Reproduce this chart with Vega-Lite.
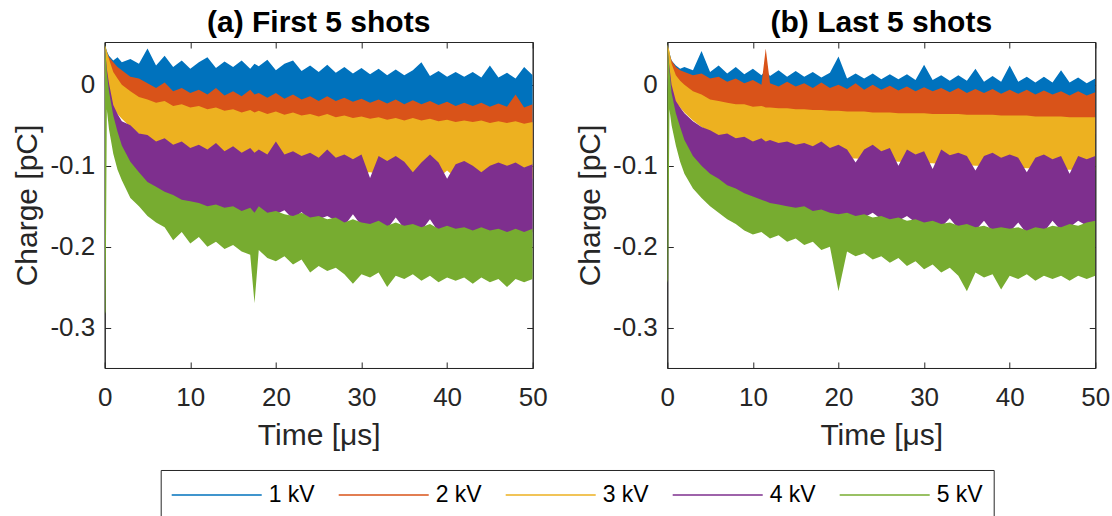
{
"$schema": "https://vega.github.io/schema/vega-lite/v6.json",
"padding": {"left": 11.7, "top": 7, "right": 5, "bottom": 0},
"background": "white",
"config": {
  "view": {"stroke": "#262626", "strokeWidth": 1},
  "axis": {"labelFont": "Liberation Sans", "labelFontSize": 26, "labelColor": "#262626", "titleFont": "Liberation Sans", "titleFontSize": 30, "titleFontWeight": "normal", "titleColor": "#262626", "domainColor": "#262626", "tickColor": "#262626", "tickSize": -6, "labelPadding": 16, "grid": false, "labelFlush": false, "labelOverlap": false},
  "title": {"font": "Liberation Sans", "fontSize": 30, "fontWeight": "bold", "color": "#000000", "offset": 4}
},
"datasets": {
"a": [
{"t":0,"h1":0.05,"l1":0.02,"h2":0.048,"l2":0.015,"h3":0.05,"l3":0.01,"h4":0.05,"l4":0.0,"h5":0.053,"l5":-0.285},
{"t":0.1,"h1":0.047,"l1":0.014,"h2":0.045,"l2":0.009,"h3":0.047,"l3":0.004,"h4":0.038,"l4":-0.01,"h5":0.04,"l5":-0.28},
{"t":0.25,"h1":0.042,"l1":0.005,"h2":0.04,"l2":0.0,"h3":0.042,"l3":-0.005,"h4":0.02,"l4":-0.025,"h5":0.015,"l5":-0.03},
{"t":0.5,"h1":0.036,"l1":-0.005,"h2":0.034,"l2":-0.01,"h3":0.032,"l3":-0.012,"h4":0.002,"l4":-0.045,"h5":-0.008,"l5":-0.055},
{"t":1,"h1":0.03,"l1":-0.015,"h2":0.028,"l2":-0.02,"h3":0.016,"l3":-0.03,"h4":-0.025,"l4":-0.072,"h5":-0.038,"l5":-0.085},
{"t":1.5,"h1":0.034,"l1":-0.018,"h2":0.022,"l2":-0.028,"h3":0.008,"l3":-0.036,"h4":-0.036,"l4":-0.085,"h5":-0.058,"l5":-0.105},
{"t":2,"h1":0.028,"l1":-0.02,"h2":0.018,"l2":-0.032,"h3":0.0,"l3":-0.042,"h4":-0.045,"l4":-0.095,"h5":-0.075,"l5":-0.118},
{"t":3,"h1":0.032,"l1":-0.022,"h2":0.01,"l2":-0.038,"h3":-0.008,"l3":-0.052,"h4":-0.05,"l4":-0.105,"h5":-0.095,"l5":-0.14},
{"t":4,"h1":0.026,"l1":-0.024,"h2":0.008,"l2":-0.042,"h3":-0.015,"l3":-0.06,"h4":-0.06,"l4":-0.113,"h5":-0.108,"l5":-0.15},
{"t":5,"h1":0.045,"l1":-0.025,"h2":0.002,"l2":-0.046,"h3":-0.018,"l3":-0.066,"h4":-0.062,"l4":-0.125,"h5":-0.12,"l5":-0.162},
{"t":6,"h1":0.024,"l1":-0.026,"h2":-0.004,"l2":-0.05,"h3":-0.022,"l3":-0.072,"h4":-0.07,"l4":-0.132,"h5":-0.126,"l5":-0.17},
{"t":7,"h1":0.036,"l1":-0.026,"h2":0.003,"l2":-0.052,"h3":-0.02,"l3":-0.078,"h4":-0.066,"l4":-0.136,"h5":-0.132,"l5":-0.176},
{"t":8,"h1":0.022,"l1":-0.027,"h2":-0.008,"l2":-0.054,"h3":-0.026,"l3":-0.082,"h4":-0.074,"l4":-0.14,"h5":-0.136,"l5":-0.192},
{"t":9,"h1":0.03,"l1":-0.027,"h2":-0.004,"l2":-0.055,"h3":-0.024,"l3":-0.085,"h4":-0.07,"l4":-0.146,"h5":-0.142,"l5":-0.182},
{"t":10,"h1":0.02,"l1":-0.028,"h2":-0.01,"l2":-0.056,"h3":-0.028,"l3":-0.09,"h4":-0.078,"l4":-0.148,"h5":-0.144,"l5":-0.196},
{"t":11,"h1":0.028,"l1":-0.028,"h2":-0.006,"l2":-0.057,"h3":-0.026,"l3":-0.088,"h4":-0.074,"l4":-0.15,"h5":-0.146,"l5":-0.188},
{"t":12,"h1":0.034,"l1":-0.029,"h2":-0.012,"l2":-0.058,"h3":-0.03,"l3":-0.094,"h4":-0.08,"l4":-0.154,"h5":-0.15,"l5":-0.2},
{"t":13,"h1":0.021,"l1":-0.029,"h2":-0.004,"l2":-0.058,"h3":-0.028,"l3":-0.092,"h4":-0.072,"l4":-0.152,"h5":-0.148,"l5":-0.194},
{"t":14,"h1":0.029,"l1":-0.03,"h2":-0.013,"l2":-0.059,"h3":-0.032,"l3":-0.097,"h4":-0.082,"l4":-0.156,"h5":-0.152,"l5":-0.203},
{"t":15,"h1":0.022,"l1":-0.03,"h2":-0.008,"l2":-0.06,"h3":-0.03,"l3":-0.096,"h4":-0.076,"l4":-0.155,"h5":-0.15,"l5":-0.198},
{"t":16,"h1":0.03,"l1":-0.03,"h2":-0.014,"l2":-0.06,"h3":-0.034,"l3":-0.1,"h4":-0.084,"l4":-0.16,"h5":-0.156,"l5":-0.206},
{"t":17,"h1":0.02,"l1":-0.031,"h2":-0.006,"l2":-0.061,"h3":-0.031,"l3":-0.098,"h4":-0.078,"l4":-0.157,"h5":-0.152,"l5":-0.21},
{"t":17.5,"h1":0.026,"l1":-0.031,"h2":-0.012,"l2":-0.061,"h3":-0.034,"l3":-0.102,"h4":-0.084,"l4":-0.162,"h5":-0.158,"l5":-0.27},
{"t":18,"h1":0.023,"l1":-0.031,"h2":-0.01,"l2":-0.062,"h3":-0.032,"l3":-0.1,"h4":-0.08,"l4":-0.156,"h5":-0.15,"l5":-0.204},
{"t":19,"h1":0.031,"l1":-0.032,"h2":-0.016,"l2":-0.062,"h3":-0.036,"l3":-0.103,"h4":-0.086,"l4":-0.162,"h5":-0.158,"l5":-0.214},
{"t":20,"h1":0.018,"l1":-0.032,"h2":-0.01,"l2":-0.063,"h3":-0.033,"l3":-0.101,"h4":-0.07,"l4":-0.16,"h5":-0.156,"l5":-0.218},
{"t":21,"h1":0.026,"l1":-0.033,"h2":-0.017,"l2":-0.063,"h3":-0.037,"l3":-0.105,"h4":-0.086,"l4":-0.155,"h5":-0.16,"l5":-0.212},
{"t":22,"h1":0.03,"l1":-0.033,"h2":-0.012,"l2":-0.064,"h3":-0.034,"l3":-0.103,"h4":-0.082,"l4":-0.166,"h5":-0.162,"l5":-0.222},
{"t":23,"h1":0.017,"l1":-0.034,"h2":-0.018,"l2":-0.064,"h3":-0.038,"l3":-0.107,"h4":-0.088,"l4":-0.157,"h5":-0.158,"l5":-0.216},
{"t":24,"h1":0.024,"l1":-0.034,"h2":-0.014,"l2":-0.065,"h3":-0.036,"l3":-0.105,"h4":-0.084,"l4":-0.168,"h5":-0.164,"l5":-0.232},
{"t":25,"h1":0.016,"l1":-0.035,"h2":-0.02,"l2":-0.065,"h3":-0.039,"l3":-0.109,"h4":-0.09,"l4":-0.166,"h5":-0.162,"l5":-0.224},
{"t":26,"h1":0.025,"l1":-0.035,"h2":-0.014,"l2":-0.066,"h3":-0.036,"l3":-0.106,"h4":-0.08,"l4":-0.162,"h5":-0.166,"l5":-0.23},
{"t":27,"h1":0.015,"l1":-0.036,"h2":-0.02,"l2":-0.066,"h3":-0.04,"l3":-0.11,"h4":-0.09,"l4":-0.168,"h5":-0.164,"l5":-0.226},
{"t":28,"h1":0.022,"l1":-0.036,"h2":-0.016,"l2":-0.067,"h3":-0.038,"l3":-0.108,"h4":-0.086,"l4":-0.174,"h5":-0.17,"l5":-0.234},
{"t":29,"h1":0.014,"l1":-0.037,"h2":-0.021,"l2":-0.067,"h3":-0.041,"l3":-0.111,"h4":-0.092,"l4":-0.16,"h5":-0.166,"l5":-0.246},
{"t":30,"h1":0.021,"l1":-0.037,"h2":-0.017,"l2":-0.068,"h3":-0.039,"l3":-0.109,"h4":-0.086,"l4":-0.174,"h5":-0.17,"l5":-0.234},
{"t":31,"h1":0.013,"l1":-0.038,"h2":-0.022,"l2":-0.068,"h3":-0.042,"l3":-0.108,"h4":-0.115,"l4":-0.176,"h5":-0.172,"l5":-0.238},
{"t":32,"h1":0.02,"l1":-0.038,"h2":-0.018,"l2":-0.069,"h3":-0.04,"l3":-0.11,"h4":-0.088,"l4":-0.172,"h5":-0.168,"l5":-0.232},
{"t":33,"h1":0.012,"l1":-0.039,"h2":-0.023,"l2":-0.069,"h3":-0.043,"l3":-0.113,"h4":-0.094,"l4":-0.178,"h5":-0.174,"l5":-0.25},
{"t":34,"h1":0.019,"l1":-0.039,"h2":-0.018,"l2":-0.07,"h3":-0.041,"l3":-0.111,"h4":-0.088,"l4":-0.164,"h5":-0.17,"l5":-0.236},
{"t":35,"h1":0.012,"l1":-0.04,"h2":-0.024,"l2":-0.07,"h3":-0.044,"l3":-0.114,"h4":-0.095,"l4":-0.178,"h5":-0.174,"l5":-0.24},
{"t":36,"h1":0.018,"l1":-0.04,"h2":-0.019,"l2":-0.071,"h3":-0.041,"l3":-0.112,"h4":-0.108,"l4":-0.176,"h5":-0.172,"l5":-0.234},
{"t":37,"h1":0.028,"l1":-0.041,"h2":-0.024,"l2":-0.071,"h3":-0.044,"l3":-0.114,"h4":-0.096,"l4":-0.18,"h5":-0.176,"l5":-0.242},
{"t":38,"h1":0.011,"l1":-0.041,"h2":-0.02,"l2":-0.072,"h3":-0.042,"l3":-0.112,"h4":-0.086,"l4":-0.166,"h5":-0.172,"l5":-0.236},
{"t":39,"h1":0.017,"l1":-0.042,"h2":-0.025,"l2":-0.072,"h3":-0.045,"l3":-0.115,"h4":-0.096,"l4":-0.182,"h5":-0.178,"l5":-0.244},
{"t":40,"h1":0.01,"l1":-0.042,"h2":-0.021,"l2":-0.073,"h3":-0.043,"l3":-0.106,"h4":-0.116,"l4":-0.178,"h5":-0.174,"l5":-0.238},
{"t":41,"h1":0.016,"l1":-0.043,"h2":-0.026,"l2":-0.073,"h3":-0.046,"l3":-0.115,"h4":-0.098,"l4":-0.182,"h5":-0.178,"l5":-0.242},
{"t":42,"h1":0.01,"l1":-0.043,"h2":-0.022,"l2":-0.074,"h3":-0.044,"l3":-0.114,"h4":-0.094,"l4":-0.18,"h5":-0.176,"l5":-0.238},
{"t":43,"h1":0.016,"l1":-0.044,"h2":-0.026,"l2":-0.074,"h3":-0.046,"l3":-0.116,"h4":-0.1,"l4":-0.184,"h5":-0.18,"l5":-0.246},
{"t":44,"h1":0.009,"l1":-0.044,"h2":-0.022,"l2":-0.075,"h3":-0.044,"l3":-0.114,"h4":-0.108,"l4":-0.18,"h5":-0.176,"l5":-0.238},
{"t":45,"h1":0.024,"l1":-0.045,"h2":-0.027,"l2":-0.075,"h3":-0.047,"l3":-0.116,"h4":-0.1,"l4":-0.184,"h5":-0.18,"l5":-0.244},
{"t":46,"h1":0.009,"l1":-0.045,"h2":-0.023,"l2":-0.076,"h3":-0.045,"l3":-0.115,"h4":-0.096,"l4":-0.182,"h5":-0.178,"l5":-0.24},
{"t":47,"h1":0.015,"l1":-0.046,"h2":-0.027,"l2":-0.076,"h3":-0.047,"l3":-0.117,"h4":-0.1,"l4":-0.186,"h5":-0.182,"l5":-0.25},
{"t":48,"h1":0.008,"l1":-0.046,"h2":-0.012,"l2":-0.077,"h3":-0.045,"l3":-0.116,"h4":-0.096,"l4":-0.182,"h5":-0.178,"l5":-0.24},
{"t":49,"h1":0.022,"l1":-0.047,"h2":-0.028,"l2":-0.077,"h3":-0.048,"l3":-0.118,"h4":-0.102,"l4":-0.186,"h5":-0.182,"l5":-0.244},
{"t":50,"h1":0.012,"l1":-0.047,"h2":-0.024,"l2":-0.078,"h3":-0.046,"l3":-0.116,"h4":-0.098,"l4":-0.182,"h5":-0.178,"l5":-0.24}
],
"b": [
{"t":0,"h1":0.05,"l1":0.02,"h2":0.048,"l2":0.015,"h3":0.05,"l3":0.01,"h4":0.05,"l4":0.0,"h5":0.053,"l5":-0.245},
{"t":0.1,"h1":0.046,"l1":0.014,"h2":0.044,"l2":0.009,"h3":0.047,"l3":0.004,"h4":0.038,"l4":-0.008,"h5":0.04,"l5":-0.24},
{"t":0.25,"h1":0.04,"l1":0.005,"h2":0.038,"l2":0.0,"h3":0.042,"l3":-0.004,"h4":0.022,"l4":-0.02,"h5":0.018,"l5":-0.03},
{"t":0.5,"h1":0.03,"l1":-0.005,"h2":0.03,"l2":-0.01,"h3":0.026,"l3":-0.012,"h4":0.0,"l4":-0.04,"h5":-0.01,"l5":-0.05},
{"t":1,"h1":0.024,"l1":-0.012,"h2":0.022,"l2":-0.016,"h3":0.012,"l3":-0.022,"h4":-0.02,"l4":-0.06,"h5":-0.035,"l5":-0.075},
{"t":1.5,"h1":0.02,"l1":-0.014,"h2":0.018,"l2":-0.02,"h3":0.005,"l3":-0.028,"h4":-0.028,"l4":-0.072,"h5":-0.052,"l5":-0.095},
{"t":2,"h1":0.022,"l1":-0.016,"h2":0.016,"l2":-0.022,"h3":0.0,"l3":-0.034,"h4":-0.035,"l4":-0.082,"h5":-0.068,"l5":-0.11},
{"t":3,"h1":0.018,"l1":-0.018,"h2":0.012,"l2":-0.026,"h3":-0.008,"l3":-0.044,"h4":-0.045,"l4":-0.096,"h5":-0.088,"l5":-0.128},
{"t":4,"h1":0.042,"l1":-0.02,"h2":0.014,"l2":-0.028,"h3":-0.012,"l3":-0.052,"h4":-0.052,"l4":-0.104,"h5":-0.1,"l5":-0.14},
{"t":5,"h1":0.016,"l1":-0.021,"h2":0.008,"l2":-0.03,"h3":-0.018,"l3":-0.058,"h4":-0.056,"l4":-0.114,"h5":-0.11,"l5":-0.15},
{"t":6,"h1":0.024,"l1":-0.022,"h2":0.01,"l2":-0.032,"h3":-0.02,"l3":-0.064,"h4":-0.062,"l4":-0.12,"h5":-0.116,"l5":-0.158},
{"t":7,"h1":0.014,"l1":-0.022,"h2":0.004,"l2":-0.034,"h3":-0.022,"l3":-0.068,"h4":-0.06,"l4":-0.128,"h5":-0.124,"l5":-0.166},
{"t":8,"h1":0.022,"l1":-0.023,"h2":0.008,"l2":-0.035,"h3":-0.024,"l3":-0.072,"h4":-0.066,"l4":-0.132,"h5":-0.128,"l5":-0.172},
{"t":9,"h1":0.013,"l1":-0.023,"h2":0.002,"l2":-0.036,"h3":-0.024,"l3":-0.075,"h4":-0.064,"l4":-0.138,"h5":-0.134,"l5":-0.18},
{"t":10,"h1":0.02,"l1":-0.024,"h2":0.006,"l2":-0.037,"h3":-0.027,"l3":-0.078,"h4":-0.07,"l4":-0.142,"h5":-0.138,"l5":-0.185},
{"t":11,"h1":0.012,"l1":-0.024,"h2":0.0,"l2":-0.038,"h3":-0.026,"l3":-0.08,"h4":-0.066,"l4":-0.146,"h5":-0.142,"l5":-0.182},
{"t":11.5,"h1":0.018,"l1":-0.024,"h2":0.045,"l2":-0.038,"h3":-0.028,"l3":-0.081,"h4":-0.07,"l4":-0.148,"h5":-0.144,"l5":-0.186},
{"t":12,"h1":0.011,"l1":-0.025,"h2":0.002,"l2":-0.039,"h3":-0.028,"l3":-0.082,"h4":-0.068,"l4":-0.15,"h5":-0.146,"l5":-0.19},
{"t":13,"h1":0.018,"l1":-0.025,"h2":-0.002,"l2":-0.04,"h3":-0.029,"l3":-0.083,"h4":-0.072,"l4":-0.152,"h5":-0.148,"l5":-0.186},
{"t":14,"h1":0.01,"l1":-0.026,"h2":0.004,"l2":-0.04,"h3":-0.029,"l3":-0.084,"h4":-0.07,"l4":-0.154,"h5":-0.15,"l5":-0.194},
{"t":15,"h1":0.017,"l1":-0.026,"h2":-0.002,"l2":-0.041,"h3":-0.03,"l3":-0.085,"h4":-0.074,"l4":-0.156,"h5":-0.152,"l5":-0.19},
{"t":16,"h1":0.01,"l1":-0.027,"h2":0.002,"l2":-0.042,"h3":-0.03,"l3":-0.086,"h4":-0.072,"l4":-0.154,"h5":-0.15,"l5":-0.198},
{"t":17,"h1":0.016,"l1":-0.027,"h2":-0.004,"l2":-0.042,"h3":-0.031,"l3":-0.087,"h4":-0.076,"l4":-0.16,"h5":-0.156,"l5":-0.194},
{"t":18,"h1":0.009,"l1":-0.028,"h2":0.003,"l2":-0.043,"h3":-0.031,"l3":-0.088,"h4":-0.07,"l4":-0.158,"h5":-0.154,"l5":-0.204},
{"t":19,"h1":0.015,"l1":-0.028,"h2":-0.004,"l2":-0.044,"h3":-0.032,"l3":-0.089,"h4":-0.078,"l4":-0.162,"h5":-0.158,"l5":-0.2},
{"t":20,"h1":0.035,"l1":-0.029,"h2":0.0,"l2":-0.044,"h3":-0.032,"l3":-0.09,"h4":-0.074,"l4":-0.164,"h5":-0.16,"l5":-0.255},
{"t":21,"h1":0.008,"l1":-0.029,"h2":-0.005,"l2":-0.045,"h3":-0.033,"l3":-0.091,"h4":-0.08,"l4":-0.162,"h5":-0.158,"l5":-0.206},
{"t":22,"h1":0.014,"l1":-0.03,"h2":0.002,"l2":-0.046,"h3":-0.033,"l3":-0.091,"h4":-0.096,"l4":-0.166,"h5":-0.162,"l5":-0.212},
{"t":23,"h1":0.008,"l1":-0.03,"h2":-0.006,"l2":-0.046,"h3":-0.033,"l3":-0.092,"h4":-0.08,"l4":-0.164,"h5":-0.16,"l5":-0.208},
{"t":24,"h1":0.014,"l1":-0.031,"h2":0.0,"l2":-0.047,"h3":-0.034,"l3":-0.093,"h4":-0.074,"l4":-0.158,"h5":-0.164,"l5":-0.216},
{"t":25,"h1":0.007,"l1":-0.031,"h2":-0.006,"l2":-0.048,"h3":-0.034,"l3":-0.093,"h4":-0.082,"l4":-0.166,"h5":-0.162,"l5":-0.212},
{"t":26,"h1":0.013,"l1":-0.032,"h2":-0.001,"l2":-0.048,"h3":-0.034,"l3":-0.094,"h4":-0.078,"l4":-0.17,"h5":-0.166,"l5":-0.22},
{"t":27,"h1":0.007,"l1":-0.032,"h2":-0.007,"l2":-0.049,"h3":-0.035,"l3":-0.095,"h4":-0.1,"l4":-0.168,"h5":-0.164,"l5":-0.214},
{"t":28,"h1":0.013,"l1":-0.033,"h2":-0.002,"l2":-0.05,"h3":-0.035,"l3":-0.095,"h4":-0.08,"l4":-0.162,"h5":-0.168,"l5":-0.224},
{"t":29,"h1":0.006,"l1":-0.033,"h2":-0.008,"l2":-0.05,"h3":-0.035,"l3":-0.096,"h4":-0.086,"l4":-0.17,"h5":-0.166,"l5":-0.218},
{"t":30,"h1":0.025,"l1":-0.034,"h2":-0.003,"l2":-0.051,"h3":-0.035,"l3":-0.097,"h4":-0.082,"l4":-0.174,"h5":-0.17,"l5":-0.228},
{"t":31,"h1":0.006,"l1":-0.034,"h2":-0.008,"l2":-0.051,"h3":-0.036,"l3":-0.097,"h4":-0.104,"l4":-0.172,"h5":-0.168,"l5":-0.222},
{"t":32,"h1":0.012,"l1":-0.035,"h2":-0.004,"l2":-0.052,"h3":-0.036,"l3":-0.098,"h4":-0.08,"l4":-0.176,"h5":-0.172,"l5":-0.232},
{"t":33,"h1":0.005,"l1":-0.035,"h2":-0.009,"l2":-0.052,"h3":-0.036,"l3":-0.098,"h4":-0.087,"l4":-0.165,"h5":-0.17,"l5":-0.226},
{"t":34,"h1":0.012,"l1":-0.036,"h2":-0.004,"l2":-0.053,"h3":-0.036,"l3":-0.099,"h4":-0.084,"l4":-0.178,"h5":-0.174,"l5":-0.236},
{"t":35,"h1":0.005,"l1":-0.036,"h2":-0.01,"l2":-0.053,"h3":-0.037,"l3":-0.099,"h4":-0.088,"l4":-0.176,"h5":-0.172,"l5":-0.255},
{"t":36,"h1":0.02,"l1":-0.037,"h2":-0.005,"l2":-0.054,"h3":-0.037,"l3":-0.1,"h4":-0.106,"l4":-0.18,"h5":-0.176,"l5":-0.232},
{"t":37,"h1":0.004,"l1":-0.037,"h2":-0.01,"l2":-0.054,"h3":-0.037,"l3":-0.1,"h4":-0.088,"l4":-0.168,"h5":-0.174,"l5":-0.238},
{"t":38,"h1":0.011,"l1":-0.038,"h2":-0.005,"l2":-0.055,"h3":-0.037,"l3":-0.101,"h4":-0.084,"l4":-0.182,"h5":-0.178,"l5":-0.234},
{"t":39,"h1":0.004,"l1":-0.038,"h2":-0.011,"l2":-0.055,"h3":-0.038,"l3":-0.101,"h4":-0.09,"l4":-0.18,"h5":-0.176,"l5":-0.253},
{"t":40,"h1":0.024,"l1":-0.039,"h2":-0.006,"l2":-0.056,"h3":-0.038,"l3":-0.102,"h4":-0.086,"l4":-0.182,"h5":-0.178,"l5":-0.236},
{"t":41,"h1":0.004,"l1":-0.039,"h2":-0.011,"l2":-0.056,"h3":-0.038,"l3":-0.102,"h4":-0.09,"l4":-0.17,"h5":-0.176,"l5":-0.24},
{"t":42,"h1":0.01,"l1":-0.04,"h2":-0.006,"l2":-0.057,"h3":-0.038,"l3":-0.103,"h4":-0.108,"l4":-0.184,"h5":-0.18,"l5":-0.234},
{"t":43,"h1":0.003,"l1":-0.04,"h2":-0.012,"l2":-0.057,"h3":-0.039,"l3":-0.103,"h4":-0.09,"l4":-0.18,"h5":-0.176,"l5":-0.242},
{"t":44,"h1":0.01,"l1":-0.041,"h2":-0.007,"l2":-0.058,"h3":-0.039,"l3":-0.104,"h4":-0.086,"l4":-0.182,"h5":-0.178,"l5":-0.236},
{"t":45,"h1":0.003,"l1":-0.041,"h2":-0.012,"l2":-0.058,"h3":-0.039,"l3":-0.104,"h4":-0.092,"l4":-0.168,"h5":-0.174,"l5":-0.24},
{"t":46,"h1":0.018,"l1":-0.042,"h2":-0.008,"l2":-0.059,"h3":-0.039,"l3":-0.105,"h4":-0.088,"l4":-0.18,"h5":-0.176,"l5":-0.236},
{"t":47,"h1":0.003,"l1":-0.042,"h2":-0.013,"l2":-0.059,"h3":-0.04,"l3":-0.105,"h4":-0.11,"l4":-0.176,"h5":-0.172,"l5":-0.242},
{"t":48,"h1":0.009,"l1":-0.043,"h2":-0.008,"l2":-0.06,"h3":-0.04,"l3":-0.105,"h4":-0.088,"l4":-0.168,"h5":-0.174,"l5":-0.236},
{"t":49,"h1":0.002,"l1":-0.043,"h2":-0.013,"l2":-0.06,"h3":-0.04,"l3":-0.106,"h4":-0.092,"l4":-0.174,"h5":-0.17,"l5":-0.24},
{"t":50,"h1":0.008,"l1":-0.044,"h2":-0.009,"l2":-0.061,"h3":-0.04,"l3":-0.106,"h4":-0.088,"l4":-0.172,"h5":-0.168,"l5":-0.236}
]
},
"spacing": 134.6,
"bounds": "flush",
"resolve": {"scale": {"color": "shared"}, "legend": {"color": "shared"}},
"hconcat": [
{
  "title": {"text": "(a) First 5 shots"},
  "width": 428, "height": 326,
  "data": {"name": "a"},
  "layer": [
    {"mark": {"type": "area", "clip": true}, "encoding": {
      "x": {"field": "t", "type": "quantitative", "scale": {"domain": [0, 50], "nice": false, "zero": false}, "axis": {"orient": "bottom", "values": [0, 10, 20, 30, 40, 50], "title": "Time [μs]", "labelPadding": 23, "titlePadding": 10}},
      "y": {"field": "h1", "type": "quantitative", "scale": {"domain": [-0.35, 0.053], "nice": false, "zero": false}, "axis": {"orient": "left", "values": [-0.3, -0.2, -0.1, 0], "title": "Charge [pC]", "labelExpr": "toString(datum.value)", "titlePadding": 7}},
      "y2": {"field": "l1"},
      "color": {"datum": "1 kV", "scale": {"domain": ["1 kV", "2 kV", "3 kV", "4 kV", "5 kV"], "range": ["#0072BD", "#D95319", "#EDB120", "#7E2F8E", "#77AC30"]},
        "legend": {"title": null, "orient": "none", "legendX": 56, "legendY": 428, "direction": "horizontal", "columns": 5, "symbolType": "M-1,0H5.43", "symbolSize": 784, "symbolStrokeWidth": 1.5, "labelFont": "Liberation Sans", "labelFontSize": 23, "labelColor": "#000000", "labelOffset": 68, "columnPadding": 20, "padding": 10, "strokeColor": "#262626", "fillColor": "#ffffff",
          "encode": {"symbols": {"update": {"stroke": {"scale": "color", "field": "value"}, "fill": {"value": "transparent"}, "strokeWidth": {"value": 1.5}}}}}}
    }},
    {"mark": {"type": "area", "clip": true}, "encoding": {"x": {"field": "t", "type": "quantitative", "axis": null}, "y": {"field": "h2", "type": "quantitative", "axis": null}, "y2": {"field": "l2"}, "color": {"datum": "2 kV"}}},
    {"mark": {"type": "area", "clip": true}, "encoding": {"x": {"field": "t", "type": "quantitative", "axis": null}, "y": {"field": "h3", "type": "quantitative", "axis": null}, "y2": {"field": "l3"}, "color": {"datum": "3 kV"}}},
    {"mark": {"type": "area", "clip": true}, "encoding": {"x": {"field": "t", "type": "quantitative", "axis": null}, "y": {"field": "h4", "type": "quantitative", "axis": null}, "y2": {"field": "l4"}, "color": {"datum": "4 kV"}}},
    {"mark": {"type": "area", "clip": true}, "encoding": {"x": {"field": "t", "type": "quantitative", "axis": null}, "y": {"field": "h5", "type": "quantitative", "axis": null}, "y2": {"field": "l5"}, "color": {"datum": "5 kV"}}},
    {"mark": {"type": "point", "opacity": 0}, "encoding": {
      "x": {"field": "t", "type": "quantitative", "axis": {"orient": "top", "values": [0, 10, 20, 30, 40, 50], "labels": false, "title": null}},
      "y": {"field": "h1", "type": "quantitative", "axis": {"orient": "right", "values": [-0.3, -0.2, -0.1, 0], "labels": false, "title": null}}}}
  ]
},
{
  "title": {"text": "(b) Last 5 shots"},
  "width": 428, "height": 326,
  "data": {"name": "b"},
  "layer": [
    {"mark": {"type": "area", "clip": true}, "encoding": {
      "x": {"field": "t", "type": "quantitative", "scale": {"domain": [0, 50], "nice": false, "zero": false}, "axis": {"orient": "bottom", "values": [0, 10, 20, 30, 40, 50], "title": "Time [μs]", "labelPadding": 23, "titlePadding": 10}},
      "y": {"field": "h1", "type": "quantitative", "scale": {"domain": [-0.35, 0.053], "nice": false, "zero": false}, "axis": {"orient": "left", "values": [-0.3, -0.2, -0.1, 0], "title": "Charge [pC]", "labelExpr": "toString(datum.value)", "titlePadding": 7}},
      "y2": {"field": "l1"},
      "color": {"datum": "1 kV"}
    }},
    {"mark": {"type": "area", "clip": true}, "encoding": {"x": {"field": "t", "type": "quantitative", "axis": null}, "y": {"field": "h2", "type": "quantitative", "axis": null}, "y2": {"field": "l2"}, "color": {"datum": "2 kV"}}},
    {"mark": {"type": "area", "clip": true}, "encoding": {"x": {"field": "t", "type": "quantitative", "axis": null}, "y": {"field": "h3", "type": "quantitative", "axis": null}, "y2": {"field": "l3"}, "color": {"datum": "3 kV"}}},
    {"mark": {"type": "area", "clip": true}, "encoding": {"x": {"field": "t", "type": "quantitative", "axis": null}, "y": {"field": "h4", "type": "quantitative", "axis": null}, "y2": {"field": "l4"}, "color": {"datum": "4 kV"}}},
    {"mark": {"type": "area", "clip": true}, "encoding": {"x": {"field": "t", "type": "quantitative", "axis": null}, "y": {"field": "h5", "type": "quantitative", "axis": null}, "y2": {"field": "l5"}, "color": {"datum": "5 kV"}}},
    {"mark": {"type": "point", "opacity": 0}, "encoding": {
      "x": {"field": "t", "type": "quantitative", "axis": {"orient": "top", "values": [0, 10, 20, 30, 40, 50], "labels": false, "title": null}},
      "y": {"field": "h1", "type": "quantitative", "axis": {"orient": "right", "values": [-0.3, -0.2, -0.1, 0], "labels": false, "title": null}}}}
  ]
}
]
}
